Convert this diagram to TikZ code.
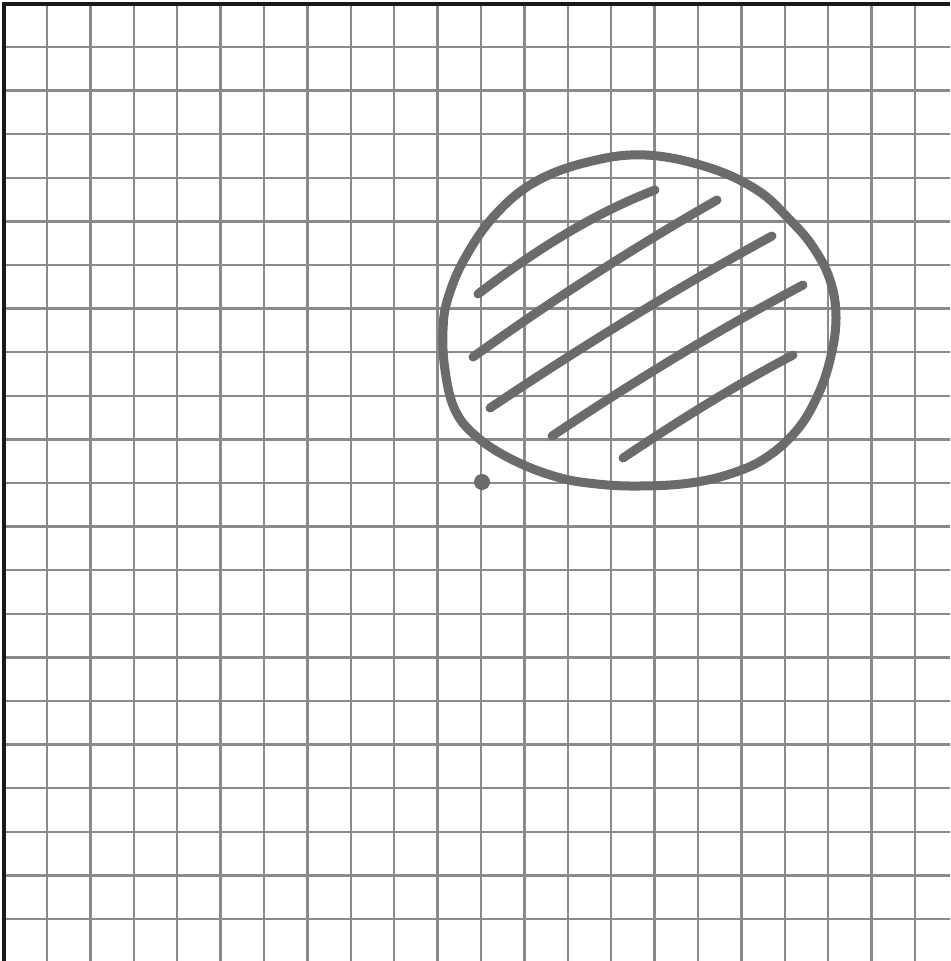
\documentclass[tikz,border=0pt]{standalone}
\begin{document}
\begin{tikzpicture}[x=0.5pt,y=-0.5pt,
  gridline/.style={draw=black!46,line width=1.2pt},
  borderline/.style={draw=black!90,line width=1.6pt},
  pen/.style={draw=black!58,line width=4.5pt,line cap=round,line join=round}]
\useasboundingbox[fill=white] (0,0) rectangle (950,961);
% grid
\foreach \k in {1,...,22} {
  \draw[gridline] ({3.6+43.4*\k},4) -- ({3.6+43.4*\k},961);
  \draw[gridline] (4,{3.4+43.6*\k}) -- (950,{3.4+43.6*\k});
}
\draw[borderline] (4,961) -- (4,4) -- (950,4);
% blob outline
\draw[pen] plot[smooth cycle,tension=0.65] coordinates {
 (645,155) (707,167) (757,190) (790,220) (813,247) (830,280) (836,318)
 (830,360) (817,397) (797,430) (767,457) (733,473) (690,483) (640,486)
 (597,484) (557,477) (513,460) (477,437) (455,410) (445,370) (443,330)
 (448,298) (465,258) (495,215) (535,182) (588,162)};
% hatching
\draw[pen] (478,294) .. controls (533,252) and (592,214) .. (655,190);
\draw[pen] (473,357) .. controls (551,301) and (633,248) .. (717,200);
\draw[pen] (490,408) .. controls (581,347) and (675,289) .. (772,236);
\draw[pen] (552,436) .. controls (633,382) and (716,331) .. (803,285);
\draw[pen] (623,458) .. controls (678,421) and (734,386) .. (793,355);
% dot
\fill[black!58] (482,482) circle (8);
\end{tikzpicture}
\end{document}
